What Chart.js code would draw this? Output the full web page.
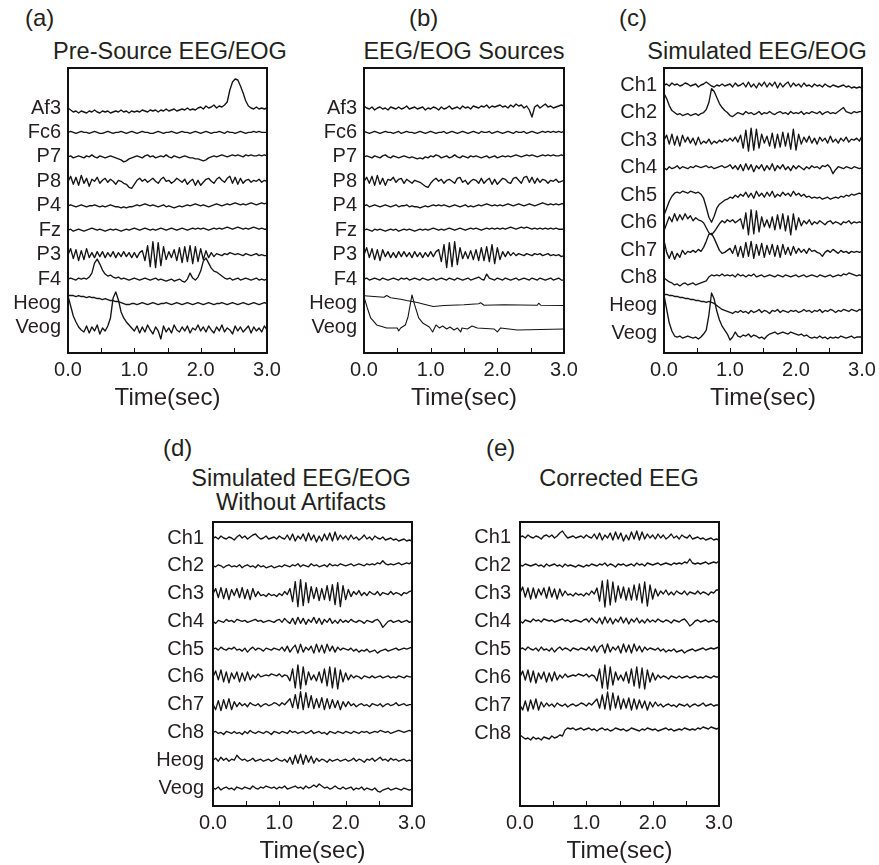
<!DOCTYPE html>
<html>
<head>
<meta charset="utf-8">
<title>EEG/EOG artifact correction</title>
<script src="https://cdn.jsdelivr.net/npm/chart.js@4.4.1/dist/chart.umd.min.js"></script>
<style>
  body { margin: 0; background: #fff; }
  #figure { position: relative; width: 879px; height: 865px; overflow: hidden;
            font-family: "Liberation Sans", Arial, Helvetica, sans-serif; color: #231f20; }
  .tag, .title { position: absolute; line-height: 1; white-space: nowrap; }
  .tag { font-size: 24px; }
  .title { font-size: 23.5px; line-height: 24px; text-align: center; transform: translateX(-50%); }
  canvas { position: absolute; }
</style>
</head>
<body>
<div id="figure">
  <div class="tag" style="left:25px; top:6px">(a)</div>
  <div class="title" style="left:170px; top:39px">Pre-Source EEG/EOG</div>
  <div class="tag" style="left:409px; top:6px">(b)</div>
  <div class="title" style="left:464px; top:39px">EEG/EOG Sources</div>
  <div class="tag" style="left:619px; top:6px">(c)</div>
  <div class="title" style="left:757px; top:39px">Simulated EEG/EOG</div>
  <div class="tag" style="left:163px; top:436px">(d)</div>
  <div class="title" style="left:301px; top:466px">Simulated EEG/EOG<br>Without Artifacts</div>
  <div class="tag" style="left:486px; top:436px">(e)</div>
  <div class="title" style="left:619px; top:466px">Corrected EEG</div>
  <canvas id="panelA"></canvas>
  <canvas id="panelB"></canvas>
  <canvas id="panelC"></canvas>
  <canvas id="panelD"></canvas>
  <canvas id="panelE"></canvas>
</div>
<script>
// Channel names (y tick labels)
const eegChannels = ['Af3', 'Fc6', 'P7', 'P8', 'P4', 'Fz', 'P3', 'F4', 'Heog', 'Veog'];
const simChannels = ['Ch1', 'Ch2', 'Ch3', 'Ch4', 'Ch5', 'Ch6', 'Ch7', 'Ch8', 'Heog', 'Veog'];
const correctedChannels = ['Ch1', 'Ch2', 'Ch3', 'Ch4', 'Ch5', 'Ch6', 'Ch7', 'Ch8'];
const timeLabels = ['0.0', '1.0', '2.0', '3.0'];

// Sample clock: one sample every 0.04 s from 0 to 3 s (76 samples)
const time = Array.from({ length: 76 }, (_, i) => Math.round(i * 4) / 100);

// Amplitudes (arbitrary units, positive = up)
// (a) Pre-source EEG/EOG
const preAf3 = [0,-2,-4,-3,-5,-3,-4,-5,-3,-4,-2,-4,-5,-3,-4,-3,-5,-4,-3,-4,-2,-4,-3,-5,-3,
  -4,-3,-4,-2,-3,-4,-2,-3,-2,-4,-2,-3,-1,-3,-2,-1,-3,-2,-1,-2,0,-2,-1,-2,0,
  1,-1,2,0,1,3,0,2,1,3,6,18,26,29,28,22,15,7,2,0,-1,1,-1,0,-1, 0];
const preFc6 = [0,1,0,-1,0,1,0,0,-1,0,1,0,-1,-1,0,1,0,-1,0,0,1,0,-1,0,1,
  0,-1,0,1,0,0,-1,-1,0,1,0,-1,0,0,1,0,-1,0,1,0,0,-1,0,1,0,
  -1,0,1,0,-1,0,0,1,0,-1,1,0,0,-1,0,1,0,-1,0,0,1,0,1,0,0, 0];
const preP7 = [0,1,-1,0,1,0,-1,1,0,2,0,-1,1,0,-1,0,1,0,-1,-2,-3,-5,-4,-2,-1,
  0,1,0,-1,1,2,0,1,-1,0,1,0,2,0,-1,1,0,-1,0,1,0,-1,-1,-2,-2,
  -3,-4,-3,-1,0,1,0,1,2,1,0,1,2,1,2,1,0,2,1,2,1,1,2,1,2, 1];
const preP8 = [0,5,-3,4,-4,6,-2,3,-5,2,0,4,-2,1,3,-1,2,0,-3,1,0,-2,-3,-6,-7,
  -3,1,3,0,2,-1,1,3,0,-2,2,4,0,1,-2,0,3,1,-1,2,-3,0,2,-4,1,
  -4,-1,2,3,0,-2,2,4,1,-1,3,5,-2,4,-3,3,-2,1,2,-1,1,0,2,-1,1, 0];
const preP4 = [0,1,0,-1,0,1,0,-1,0,0,1,0,-1,0,-1,0,1,0,-1,-1,-2,-1,-2,-1,-1,
  0,1,0,1,2,1,0,1,0,-1,0,1,-1,0,-1,-2,-1,0,-1,0,1,0,1,2,1,
  0,1,0,-1,0,1,2,1,0,1,2,1,2,3,2,1,2,1,2,3,2,1,2,3,2, 3];
const preFz = [0,1,-1,0,1,0,-1,0,1,2,1,0,1,0,-1,0,1,0,1,0,-1,0,1,0,1,
  2,1,0,1,2,1,0,1,0,1,2,1,0,1,2,1,0,1,2,1,0,1,2,1,2,
  1,2,1,0,1,2,1,2,1,2,3,2,1,2,3,2,1,2,1,2,3,2,1,2,1, 1];
const preP3 = [0,6,-4,5,-6,4,-5,6,-3,2,-3,3,-2,3,-3,2,-2,3,-3,2,-2,3,-2,2,-3,
  2,-3,2,4,-6,9,-12,13,-13,12,-11,8,-5,3,-3,5,-6,7,-8,8,-7,9,-9,8,-7,
  6,-5,4,-3,2,-2,1,0,-1,1,0,2,1,0,1,0,-1,1,0,-1,0,1,-1,0,-1, -1];
const preF4 = [0,1,0,-1,1,0,1,0,2,6,16,20,15,9,5,3,4,2,1,2,0,1,0,-1,0,
  1,0,-1,0,1,0,-1,0,1,-1,0,-1,-2,-1,0,-2,-1,0,-2,-3,0,6,1,-1,2,
  8,18,21,16,11,8,7,5,3,1,0,1,-1,0,1,-1,0,1,0,-1,0,1,-1,0,-1, 0];
const preHeog = [8,8,8,7,8,7,7,6,7,6,6,5,5,4,5,4,3,3,2,2,1,0,-1,-1,0,
  0,-1,0,1,0,-1,0,1,0,-1,0,0,1,0,-1,0,1,0,-1,0,1,0,-1,0,1,
  0,-1,0,1,0,-1,0,0,1,0,-1,0,1,0,-1,0,1,0,-1,0,1,0,-1,0,1, 0];
const preVeog = [32,22,12,6,1,-2,-4,2,-5,1,-3,3,-6,0,-3,2,10,30,36,28,16,10,6,3,0,
  -3,2,-5,1,-4,3,-2,-6,1,-3,-11,2,-4,0,-5,3,-2,-4,1,-3,2,-5,0,-2,3,
  -3,1,-4,2,-2,-5,1,-3,3,-4,0,-2,-6,2,-3,1,-4,-1,2,-5,1,-3,0,-4,2, -2];

// (b) EEG/EOG sources
const srcAf3 = [2,0,-1,1,-2,0,1,-1,0,-2,1,0,-1,1,-1,0,2,-1,0,1,-1,0,1,-2,0,
  -1,1,0,-2,1,-1,0,2,-1,0,1,-1,2,0,1,-1,2,1,0,2,1,3,0,2,1,
  2,3,1,2,0,3,1,4,2,3,0,2,-2,-9,1,3,0,2,4,1,2,0,1,2,3, 2];
const srcFc6 = [1,0,-1,0,1,0,-1,0,1,0,0,-1,0,1,-1,0,1,0,0,-1,0,1,0,-1,0,
  1,0,-1,0,0,1,-1,0,1,0,-1,0,1,0,-1,0,1,0,-1,1,0,0,1,-1,0,
  1,0,-1,0,1,0,-1,1,0,0,1,-1,0,1,0,-1,0,1,0,1,0,1,0,1,0, 1];
const srcP7 = [0,1,0,-1,1,0,-1,1,2,0,-1,1,0,-1,0,1,0,-1,0,-1,-2,-1,-2,0,-1,
  1,0,2,1,-1,0,1,-1,0,2,0,-1,1,0,-1,1,0,1,0,-1,0,1,-1,0,1,
  -1,0,1,0,1,0,1,2,1,0,1,2,1,2,1,0,1,2,1,2,1,2,1,1,2, 1];
const srcP8 = [0,4,-2,5,-4,6,-3,3,-4,2,1,4,-1,2,3,-2,2,0,-2,1,0,-1,-3,-5,-6,
  -2,1,3,0,2,-2,1,2,0,-2,3,4,-1,1,-3,0,2,1,-2,3,-2,1,3,-3,2,
  -3,0,3,2,-1,-2,3,4,1,-2,4,5,-1,4,-2,3,-1,2,1,-2,1,0,2,-1,0, 1];
const srcP4 = [0,1,-1,0,1,0,-1,0,1,0,-1,0,1,-1,0,0,1,-1,0,-1,-1,-2,-1,0,-1,
  0,1,0,1,0,1,0,-1,0,1,0,-1,0,1,-1,0,-1,0,1,0,1,2,1,0,1,
  0,1,0,1,2,1,0,1,2,1,0,1,2,1,0,1,2,3,2,1,2,1,2,1,2, 2];
const srcFz = [0,1,0,-1,1,0,1,0,-1,0,1,0,1,-1,0,1,0,1,0,-1,0,1,0,1,0,
  1,2,1,0,1,0,1,2,1,0,1,2,1,0,1,2,1,2,1,0,1,2,1,2,1,
  2,1,2,1,2,3,2,1,2,3,2,3,2,1,2,1,2,1,2,1,2,1,2,1,1, 1];
const srcP3 = [0,7,-3,6,-5,5,-6,5,-2,3,-3,2,-3,3,-2,3,-2,2,-3,3,-2,2,-3,2,-2,
  3,-2,3,5,-7,10,-13,12,-12,13,-10,7,-4,3,-4,4,-5,5,-6,7,-6,8,-7,10,-9,
  7,-5,3,-2,3,-1,2,-1,1,0,-1,1,0,-1,1,0,1,-1,0,1,-1,0,-1,0,-2, -1];
const srcF4 = [0,1,-1,0,1,0,-1,1,0,-1,0,1,0,-1,1,0,1,-1,0,1,0,-1,1,0,-1,
  0,1,-1,0,1,0,-1,1,0,-1,1,0,-1,0,1,-1,0,1,2,0,-1,5,1,0,-1,
  1,0,-1,1,0,-1,0,1,-1,0,1,0,-1,1,0,-1,1,0,-1,0,1,-1,0,1,-1, -1];
// the two EOG sources are smooth, so they are read at their turning points
const srcHeogTime = [0, 0.3, 0.34, 0.4, 0.55, 0.64, 0.8, 0.9, 1.04, 1.2, 1.5, 1.72, 1.75, 1.8, 2.1, 2.6, 2.62, 2.65, 3.0];
const srcHeog = [7.7, 6.3, 8, 5.7, 4.3, 3, 1, -0.7, -3, -2, -1.3, -0.3, 0.7, -1.7, -1.3, -1.7, 0.3, -1.7, -2];
const srcVeogTime = [0, 0.05, 0.1, 0.19, 0.34, 0.5, 0.52, 0.55, 0.62, 0.66, 0.72, 0.76, 0.82, 0.88, 0.98, 1.03, 1.08,
  1.13, 1.18, 1.24, 1.29, 1.35, 1.4, 1.45, 1.47, 1.55, 1.62, 1.7, 1.95, 2.0, 2.05, 2.3, 3.0];
const srcVeog = [31, 20, 10, 3, 0, 0, -3, 0, 3, 11, 33, 23, 10, 5, 1, -4, 3,
  0, 2, -1, 1, -2, 0, -4, 0, -1, 2, 0, -1, -4, 0, -2, -1];

// (c) Simulated EEG/EOG
const simCh1 = [0,1,-1,2,0,1,-1,0,2,1,-1,0,1,-2,0,1,3,1,-1,-2,0,-1,1,-1,0,
  1,-2,2,-1,0,2,-2,3,-2,1,-3,2,-1,3,-2,2,-1,3,-3,2,-2,1,3,-2,2,
  -1,1,-2,2,-1,0,-2,1,-1,0,-2,1,-1,-2,0,-1,-2,-1,0,-2,-1,-3,-2,-3,-2, -3];
const simCh2 = [19,14,7,2,0,-2,-1,-3,-2,-1,-3,-2,-1,-3,-1,0,3,10,24,21,15,9,5,2,0,
  -3,-4,-2,0,-1,-2,1,-1,0,-2,-1,1,-2,0,-1,1,-1,-2,0,1,-1,0,-2,1,-1,
  0,-1,1,-2,0,-1,1,0,-1,1,-2,0,1,-1,0,-1,1,3,5,1,0,-1,1,0,1, 1];
const simCh3 = [0,5,-4,6,-5,4,-6,5,-2,3,-3,2,-5,3,-4,-1,-3,1,-4,-1,-3,0,-2,1,-1,
  2,-1,3,-2,5,-8,10,-11,12,-10,11,-8,6,-3,4,-6,7,-8,6,-7,8,-6,7,-9,11,
  -10,6,-4,3,-2,4,-3,2,-4,3,-1,2,-3,4,-2,1,-3,2,-1,3,-2,1,0,2,-1, 4];
const simCh4 = [0,-2,1,-1,0,2,-1,1,0,-1,1,0,2,1,0,1,2,0,1,-1,0,1,2,0,1,
  3,-1,2,-2,3,-3,4,-2,3,-4,2,-1,3,-3,2,-2,4,-3,2,-1,3,-2,1,-3,2,
  -1,2,0,-2,1,-1,2,0,1,-1,2,1,3,0,-6,-2,1,0,-1,1,0,-1,1,0,-1, 0];
const simCh5 = [-20,-13,-6,-1,2,3,2,4,3,2,4,3,2,3,1,-3,-12,-22,-27,-21,-13,-9,-7,-5,-4,
  -2,-3,0,-2,1,-1,3,-2,2,-3,4,-1,2,-2,3,-1,4,-2,1,-1,3,0,2,-1,4,
  0,2,-1,1,-2,-1,-3,-2,-3,-2,-4,-3,-2,-4,-3,-2,-3,-1,-2,0,-1,1,0,1,2, 1];
const simCh6 = [-8,-1,6,1,9,2,8,3,9,4,7,2,5,3,2,0,-5,-10,-12,-9,-5,-1,2,0,3,
  1,3,0,2,4,-6,10,-12,13,-11,12,-9,6,-4,3,-5,6,-7,8,-6,9,-8,7,-12,9,
  -7,5,-3,2,-1,3,-2,1,-1,2,0,-2,1,2,-1,1,0,-2,1,0,2,-1,1,0,1, 0];
const simCh7 = [10,-2,-8,-1,-9,-3,-7,0,-4,-1,-2,0,-2,1,-1,3,9,16,17,12,6,0,-3,-2,0,
  2,-3,5,-6,4,-7,8,-6,9,-8,6,-5,7,-7,5,-4,6,-6,5,-7,6,-4,3,-5,4,
  -3,2,-2,1,-3,2,-1,0,-2,-3,-6,-2,0,-2,1,-1,-3,0,-2,-1,-3,-1,-2,-1,-2, -1];
const simCh8 = [0,-2,-4,-5,-7,-6,-8,-6,-5,-7,-6,-5,-7,-6,-5,-4,-3,1,3,2,3,2,4,2,3,
  2,3,1,4,2,3,1,3,2,4,1,2,3,1,2,3,2,1,3,2,1,3,2,1,2,
  3,1,2,3,1,2,3,2,1,3,2,1,2,3,1,2,3,2,4,3,5,4,3,2,3, 2];
const simHeog = [11,11,10,10,9,9,8,8,7,7,6,6,5,5,4,4,3,4,3,2,0,-2,-4,-5,-6,
  -7,-8,-6,-7,-5,-7,-6,-8,-5,-7,-6,-4,-7,-5,-6,-8,-5,-6,-4,-7,-5,-6,-7,-5,-6,
  -5,-7,-6,-4,-6,-5,-7,-5,-6,-4,-7,-5,-6,-4,-5,-7,-5,-6,-4,-5,-6,-4,-5,-6,-4, -5];
const simVeog = [38,24,10,2,-3,-4,-3,-5,-4,-3,-4,-5,-4,-6,-4,-1,3,18,40,34,22,13,7,3,-1,
  -7,-4,1,-3,-4,-2,-3,-1,-4,-2,-3,-5,-4,-6,-3,-1,0,1,-1,0,1,0,-1,1,0,
  -1,-2,-1,-3,-2,-4,-5,-4,-5,-3,-5,-4,-6,-4,-5,-4,-5,-3,-4,-5,-4,-3,-5,-4,-4, -4];

// (d) Simulated EEG/EOG without artifacts
const cleanCh1 = [0,1,-1,2,0,-1,1,0,-2,1,3,0,2,-1,1,3,4,1,-1,0,2,-1,0,1,-1,
  2,0,-1,3,-2,4,-3,2,-1,4,-3,5,-2,3,-4,2,-3,4,-2,5,-3,6,-2,3,-1,
  2,-2,3,-1,1,-2,0,3,-1,1,-2,2,0,-1,1,-2,-1,0,-2,-1,-3,-2,-1,-3,-2, -3];
const cleanCh2 = [0,-1,1,0,-2,0,1,-1,0,-1,1,-2,0,1,-1,0,-2,1,-1,0,-2,-1,0,-2,-1,
  0,-1,1,0,-1,1,0,2,-1,1,0,-1,2,0,1,-1,0,1,-1,2,0,1,0,2,1,
  0,1,2,0,1,2,1,0,2,1,2,1,3,2,5,2,1,2,1,2,3,1,2,3,2, 4];
const cleanCh3 = [0,5,-4,6,-5,5,-6,4,-2,5,-4,6,-5,4,-6,5,-3,2,-2,-1,-3,0,-2,-1,-3,
  0,-2,2,-1,5,-8,12,-13,14,-12,11,-9,7,-5,6,-7,5,-6,8,-7,9,-11,11,-13,8,
  -6,4,-3,2,-1,3,-2,1,-2,2,0,-1,2,-2,1,0,-1,2,-1,1,0,-2,1,0,2, 3];
const cleanCh4 = [0,-2,1,0,-1,2,0,1,-1,2,1,0,1,-1,0,1,2,0,1,-1,0,1,0,-1,1,
  2,-1,3,0,-2,3,-3,4,-2,3,-3,2,-1,4,-2,3,-3,2,-1,3,-2,1,-2,2,-1,
  1,-1,2,0,-1,1,0,-2,1,0,-1,1,2,-1,-6,-3,0,1,-1,0,1,-1,0,1,-1, 0];
const cleanCh5 = [0,1,-1,2,0,-1,1,0,2,-1,0,-2,1,-3,0,2,-1,1,0,-2,1,0,-1,1,0,
  -1,2,-2,3,-3,1,4,-4,5,-3,2,-1,3,-4,5,-3,4,-4,5,-2,3,-3,2,-1,1,
  0,-1,1,-2,0,-3,-1,-2,0,-3,-2,-1,-4,-2,-1,0,-2,-1,0,1,-1,0,1,0,1, 2];
const cleanCh6 = [0,6,-3,7,-5,5,-6,4,-2,5,-5,4,-4,5,-3,2,-1,3,0,1,2,1,3,2,1,
  3,0,2,1,-4,8,-11,12,-12,10,-8,5,-3,2,-4,5,-6,8,-9,10,-11,9,-12,7,-5,
  4,-3,2,-1,1,0,-2,1,0,-1,1,-1,0,1,-1,0,1,-1,0,-1,1,0,-1,1,0, 0];
const cleanCh7 = [0,-5,4,-6,5,-4,6,-5,3,-2,2,-1,1,-2,2,0,-1,1,-2,0,1,-1,0,2,1,
  -1,2,0,3,6,-3,10,-4,13,-5,12,-3,9,-4,6,-3,7,-5,6,-4,5,-3,4,-5,3,
  -2,3,-1,1,-2,0,1,-1,0,-2,1,0,-1,1,-2,0,1,-1,0,2,-1,0,1,-1,0, 0];
const cleanCh8 = [0,1,-1,0,-2,1,0,-1,1,-1,0,-2,1,-1,2,0,-1,1,0,-1,1,0,-2,1,0,
  -1,1,0,-1,2,0,1,-1,0,1,-1,0,2,-1,0,1,-1,0,-2,1,0,-1,1,0,-1,
  1,0,-1,1,0,-1,1,0,1,-1,0,1,0,2,1,0,1,-1,0,1,2,1,0,1,2, 1];
const cleanHeog = [0,2,-1,3,0,2,-1,1,0,5,2,0,1,-1,0,2,-1,0,1,-1,0,1,-1,0,2,
  0,-1,1,-2,3,-4,5,-3,6,-4,5,-2,4,-3,2,-1,1,0,-2,1,-1,0,1,-1,0,
  1,-1,0,2,-1,1,0,-2,1,0,2,-1,1,3,0,1,-1,2,0,1,-1,0,1,-1,0, -1];
const cleanVeog = [0,-1,1,-2,0,1,-1,0,-2,1,0,-1,1,0,-1,2,0,-1,1,0,2,1,0,1,-1,
  1,0,2,-1,0,1,2,0,1,-1,2,0,1,3,1,4,2,0,1,-1,0,2,0,-1,1,
  -1,0,1,-2,0,-1,1,-2,0,-1,-2,0,-3,-4,-2,-1,0,-2,-1,0,-1,-2,0,-1,-2, -1];

// (e) Corrected EEG
const corrCh1 = [0,1,-1,2,0,-1,1,0,-2,1,2,0,2,-1,1,4,6,2,-1,0,1,-1,0,1,-1,
  2,0,-1,3,-2,4,-3,2,-1,4,-3,5,-2,4,-4,2,-3,5,-2,6,-3,5,-2,3,-1,
  2,-2,3,-1,2,-2,0,3,-1,1,-2,2,0,-1,2,-2,-1,0,-2,-1,-3,-2,-1,-3,-2, -3];
const corrCh2 = [0,-1,1,0,-1,0,1,-1,0,-2,1,-1,0,1,-1,0,-2,1,-1,0,-1,-2,0,-1,-2,
  0,-1,1,0,-1,1,0,2,-1,1,0,-2,1,0,1,-1,0,1,-1,2,0,1,-1,2,1,
  0,1,2,0,1,2,1,0,2,1,2,1,3,2,6,2,1,2,1,2,3,1,2,3,2, 4];
const corrCh3 = [0,6,-4,5,-6,5,-5,4,-2,5,-5,6,-4,4,-6,4,-3,2,-2,-1,-3,0,-2,-1,-3,
  0,-2,2,-1,5,-8,12,-14,13,-12,11,-9,7,-5,6,-7,5,-7,8,-7,9,-10,11,-13,8,
  -6,4,-3,2,-1,3,-2,1,-2,2,0,-1,2,-2,1,0,-1,2,-1,1,0,-2,1,0,3, 3];
const corrCh4 = [0,-2,1,0,-1,2,0,1,-1,2,1,0,1,-1,0,1,2,0,1,-1,0,1,0,-1,1,
  2,-1,3,0,-2,3,-3,4,-2,3,-3,2,-1,4,-2,3,-3,2,-1,3,-2,1,-2,2,-1,
  1,-1,2,0,-1,1,0,-2,1,0,-1,1,2,-1,-5,-3,0,1,-1,0,1,-1,0,1,-1, 0];
const corrCh5 = [0,1,-1,2,0,-1,1,-2,2,-1,0,-2,1,-3,0,2,-1,1,0,-2,1,0,-1,1,0,
  -1,2,-2,3,-3,2,4,-4,5,-3,2,-1,3,-4,5,-3,4,-4,5,-2,3,-3,2,-1,1,
  0,-1,1,-2,0,-3,-1,-2,0,-3,-2,-1,-4,-2,-1,0,-2,-1,0,1,-1,0,1,0,1, 2];
const corrCh6 = [0,6,-3,7,-5,6,-6,4,-2,5,-5,4,-4,5,-3,2,-1,3,0,1,2,1,3,2,1,
  3,0,2,1,-4,8,-11,12,-12,10,-8,5,-3,2,-4,5,-6,8,-9,10,-11,9,-12,7,-5,
  4,-3,2,-1,1,0,-2,1,0,-1,1,-1,0,1,-1,0,1,-1,0,-1,1,0,-1,1,0, 0];
const corrCh7 = [0,-5,4,-6,5,-4,6,-5,3,-2,2,-1,1,-2,2,0,-1,1,-2,0,1,-1,0,2,1,
  -1,2,0,3,6,-3,10,-4,13,-5,12,-3,9,-4,6,-3,7,-5,6,-4,5,-3,4,-5,3,
  -2,3,-1,1,-2,0,1,-1,0,-2,1,0,-1,1,-2,0,1,-1,0,2,-1,0,1,-1,0, 0];
const corrCh8 = [-2,-4,-6,-5,-7,-4,-6,-5,-7,-4,-5,-6,-3,-5,-4,-2,-3,3,5,4,5,3,4,5,3,
  4,5,3,4,2,4,5,3,4,2,3,5,4,3,4,2,3,5,4,3,2,4,3,5,4,
  3,4,2,3,4,5,3,4,2,3,4,3,5,4,3,4,3,5,4,6,5,4,6,5,4, 5];

// Layout
const INK = '#231f20';
const TRACE = '#141414';
const AXIS_W = 72;     // room for channel names
const X_AXIS_H = 60;   // room for time labels and axis title
const PAD_T = 12, PAD_R = 28, PAD_B = 4;

Chart.defaults.font.family = '"Liberation Sans", Arial, Helvetica, sans-serif';
Chart.defaults.color = INK;

// box = [left, top, width, height] of the plot frame, rows = first channel row and row spacing (px)
const panels = [
  { id: 'panelA', box: [68, 68, 199, 285], rows: [108, 24.44], channels: eegChannels,
    traces: [preAf3, preFc6, preP7, preP8, preP4, preFz, preP3, preF4, preHeog, preVeog].map(v => [time, v]) },
  { id: 'panelB', box: [364, 68, 200, 285], rows: [108, 24.44], channels: eegChannels,
    traces: [srcAf3, srcFc6, srcP7, srcP8, srcP4, srcFz, srcP3, srcF4].map(v => [time, v])
      .concat([[srcHeogTime, srcHeog], [srcVeogTime, srcVeog]]) },
  { id: 'panelC', box: [664, 68, 198, 285], rows: [85, 27.56], channels: simChannels,
    traces: [simCh1, simCh2, simCh3, simCh4, simCh5, simCh6, simCh7, simCh8, simHeog, simVeog].map(v => [time, v]) },
  { id: 'panelD', box: [213, 522, 199, 284], rows: [538, 27.78], channels: simChannels,
    traces: [cleanCh1, cleanCh2, cleanCh3, cleanCh4, cleanCh5, cleanCh6, cleanCh7, cleanCh8, cleanHeog, cleanVeog].map(v => [time, v]) },
  { id: 'panelE', box: [520, 522, 199, 284], rows: [537, 28], channels: correctedChannels,
    traces: [corrCh1, corrCh2, corrCh3, corrCh4, corrCh5, corrCh6, corrCh7, corrCh8].map(v => [time, v]) }
];

// Frame around the plot area plus small inward ticks every 0.5 s
const framePlugin = {
  id: 'frame',
  afterDraw(chart) {
    const { ctx, chartArea: a, scales: { x } } = chart;
    ctx.save();
    ctx.strokeStyle = '#111';
    ctx.lineWidth = 1;
    x.ticks.forEach(t => {
      const px = Math.round(x.getPixelForValue(t.value)) + 0.5;
      ctx.beginPath();
      ctx.moveTo(px, a.bottom);
      ctx.lineTo(px, a.bottom - 5);
      ctx.stroke();
    });
    ctx.lineWidth = 2;
    ctx.strokeRect(a.left, a.top, a.right - a.left, a.bottom - a.top);
    ctx.restore();
  }
};

panels.forEach(p => {
  const [left, top, width, height] = p.box;
  const [firstRow, rowGap] = p.rows;
  const canvas = document.getElementById(p.id);
  canvas.width = AXIS_W + width + PAD_R;
  canvas.height = PAD_T + height + X_AXIS_H + PAD_B;
  canvas.style.left = (left - AXIS_W) + 'px';
  canvas.style.top = (top - PAD_T) + 'px';

  const datasets = p.traces.map(([t, v], k) => ({
    label: p.channels[k],
    data: v.map((amp, i) => ({ x: t[i], y: k - amp / rowGap })),
    borderColor: TRACE,
    borderWidth: p.id === 'panelB' && k >= 8 ? 1.1 : 1.35,
    borderJoinStyle: 'round',
    pointRadius: 0,
    tension: 0,
    fill: false
  }));

  new Chart(canvas, {
    type: 'line',
    data: { datasets },
    plugins: [framePlugin],
    options: {
      responsive: false,
      animation: false,
      devicePixelRatio: 1,
      events: [],
      layout: { padding: { left: 0, top: PAD_T, right: PAD_R, bottom: PAD_B } },
      plugins: { legend: { display: false }, tooltip: { enabled: false } },
      scales: {
        x: {
          type: 'linear',
          min: 0,
          max: 3,
          grid: { display: false, drawTicks: false },
          border: { display: false },
          ticks: {
            stepSize: 0.5,
            autoSkip: false,
            maxRotation: 0,
            padding: 5,
            color: INK,
            font: { size: 20 },
            callback: v => (Number.isInteger(v) ? timeLabels[v] : '')
          },
          title: { display: true, text: 'Time(sec)', color: INK, font: { size: 24, lineHeight: 1.2 }, padding: 0 },
          afterFit: s => { s.height = X_AXIS_H; s.paddingLeft = 0; s.paddingRight = 0; }
        },
        y: {
          type: 'linear',
          reverse: true,
          min: (top - firstRow) / rowGap,
          max: (top + height - firstRow) / rowGap,
          grid: { display: false, drawTicks: false },
          border: { display: false },
          afterBuildTicks: s => { s.ticks = p.channels.map((_, k) => ({ value: k })); },
          ticks: {
            autoSkip: false,
            padding: p.box[1] > 400 ? 9 : 7,
            color: INK,
            font: { size: 20 },
            callback: v => p.channels[v]
          },
          afterFit: s => { s.width = AXIS_W; s.paddingTop = 0; s.paddingBottom = 0; }
        }
      }
    }
  });
});
</script>
</body>
</html>
